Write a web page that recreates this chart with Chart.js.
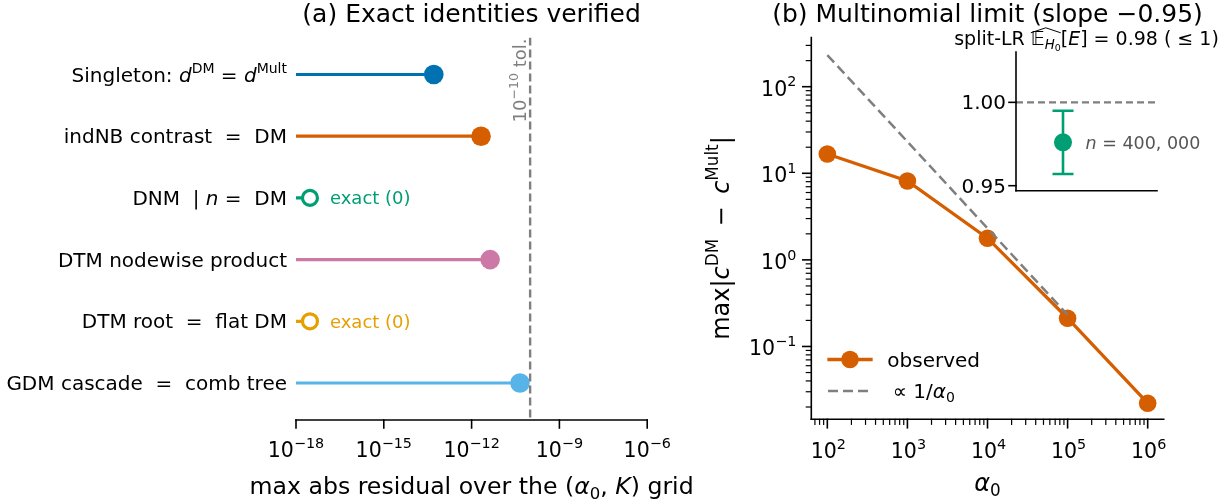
<!DOCTYPE html>
<html>
<head>
<meta charset="utf-8">
<script src="https://cdn.jsdelivr.net/npm/chart.js@4.4.1/dist/chart.umd.min.js"></script>
<style>
  html, body { margin: 0; padding: 0; background: #fff; }
  #wrap { position: relative; width: 1231px; height: 503px; }
  #wrap canvas { position: absolute; left: 0; top: 0; }
</style>
</head>
<body>
<div id="wrap">
  <canvas id="left" width="1231" height="503"></canvas>
  <canvas id="right" width="1231" height="503"></canvas>
  <canvas id="inset" width="1231" height="503"></canvas>
</div>
<script>
// panel (a): residuals of the exact identities
const identityLabels = [
  'Singleton: {i:d}{sup:DM} = {i:d}{sup:Mult}',
  'indNB contrast  =  DM',
  'DNM  | {i:n} =  DM',
  'DTM nodewise product',
  'DTM root  =  flat DM',
  'GDM cascade  =  comb tree'
];
const residuals = [5.1e-14, 2.1e-12, 0, 4.3e-12, 0, 4.5e-11];
const identityColors = ['#0072B2', '#D55E00', '#009E73', '#CC79A7', '#E69F00', '#56B4E9'];
const exactFloor = 3e-18; // where the exactly-zero rows sit
const tolerance = 1e-10;
const residualTickExps = [-18, -15, -12, -9, -6];

// panel (b): multinomial limit
const alpha0 = [1e2, 1e3, 1e4, 1e5, 1e6];
const observedDiff = [16.7, 8.15, 1.78, 0.212, 0.0221];
const refAlpha0 = [1e2, 1e3, 1e4, 1e5];
const refDiff = [232, 23.2, 2.32, 0.232];
const alphaTickExps = [2, 3, 4, 5, 6];
const diffTickExps = [-1, 0, 1, 2];

// inset: split-LR e-value check
const splitLRMean = 0.976;
const splitLRLow = 0.957;
const splitLRHigh = 0.995;
const splitLRTicks = [0.95, 1.00];
const splitLRn = '400, 000';

const FONT = '"DejaVu Sans", "Noto Sans", sans-serif';
const GRAY = '#7f7f7f';

// tiny markup: {i:x} italic, {sup:x} superscript, {sub:x} subscript
function parseRich(str) {
  const segs = [];
  const re = /\{(i|sup|sub):([^}]*)\}/g;
  let last = 0, m;
  while ((m = re.exec(str))) {
    if (m.index > last) segs.push({ t: str.slice(last, m.index) });
    if (m[1] === 'i') segs.push({ t: m[2], it: true });
    if (m[1] === 'sup') segs.push({ t: m[2], s: 0.7, dy: 0.45 });
    if (m[1] === 'sub') segs.push({ t: m[2], s: 0.7, dy: -0.2 });
    last = re.lastIndex;
  }
  if (last < str.length) segs.push({ t: str.slice(last) });
  return segs;
}

function segFont(seg, size) {
  return (seg.it ? 'italic ' : '') + (size * (seg.s || 1)).toFixed(2) + 'px ' + FONT;
}

function drawRich(ctx, segs, x, y, size, align, color) {
  if (typeof segs === 'string') segs = parseRich(segs);
  let total = 0;
  const widths = segs.map(seg => {
    ctx.font = segFont(seg, size);
    const w = ctx.measureText(seg.t).width;
    total += w;
    return w;
  });
  let cx = align === 'right' ? x - total : align === 'center' ? x - total / 2 : x;
  ctx.save();
  ctx.fillStyle = color;
  ctx.strokeStyle = color;
  ctx.textAlign = 'left';
  ctx.textBaseline = 'alphabetic';
  segs.forEach((seg, k) => {
    ctx.font = segFont(seg, size);
    ctx.fillText(seg.t, cx, y - (seg.dy || 0) * size);
    if (seg.hatSpan) {
      let w = 0;
      for (let j = k; j < k + seg.hatSpan; j++) w += widths[j];
      const top = y - 0.8 * size;
      ctx.lineWidth = 1;
      ctx.beginPath();
      ctx.moveTo(cx, top + 3);
      ctx.lineTo(cx + w / 2, top - 2);
      ctx.lineTo(cx + w, top + 3);
      ctx.stroke();
    }
    cx += widths[k];
  });
  ctx.restore();
  return total;
}

function pow10Label(e) {
  return '10{sup:' + (e < 0 ? '\u2212' + (-e) : e) + '}';
}

function logMinors(min, max) {
  const out = [];
  for (let e = Math.floor(Math.log10(min)); e <= Math.ceil(Math.log10(max)); e++) {
    for (let k = 2; k <= 9; k++) {
      const v = k * Math.pow(10, e);
      if (v >= min && v <= max) out.push(v);
    }
  }
  return out;
}

function line(ctx, x1, y1, x2, y2, w, color) {
  ctx.save();
  ctx.strokeStyle = color || '#000';
  ctx.lineWidth = w;
  ctx.lineCap = 'square';
  ctx.beginPath();
  ctx.moveTo(x1, y1);
  ctx.lineTo(x2, y2);
  ctx.stroke();
  ctx.restore();
}

const baseOptions = {
  responsive: false,
  devicePixelRatio: 1,
  animation: false,
  events: [],
  plugins: { legend: { display: false }, tooltip: { enabled: false } }
};

// ---------- panel (a) ----------
const leftDatasets = [{
  data: [{ x: tolerance, y: -0.6 }, { x: tolerance, y: 5.6 }],
  showLine: true, borderColor: GRAY, borderWidth: 2.4, borderDash: [8, 4], pointRadius: 0
}];
identityLabels.forEach((lab, i) => {
  const exact = residuals[i] === 0;
  leftDatasets.push({
    data: [{ x: 1e-18, y: i }, { x: exact ? exactFloor : residuals[i], y: i }],
    showLine: true,
    borderColor: identityColors[i],
    borderWidth: 3.2,
    pointStyle: 'circle',
    pointRadius: [0, exact ? 7.5 : 9.8],
    pointBackgroundColor: exact ? '#fff' : identityColors[i],
    pointBorderColor: identityColors[i],
    pointBorderWidth: [0, exact ? 3.2 : 0]
  });
});

new Chart(document.getElementById('left'), {
  type: 'scatter',
  data: { datasets: leftDatasets },
  options: {
    ...baseOptions,
    layout: { padding: { left: 296, right: 1231 - 647.2, top: 37.5, bottom: 503 - 420 } },
    scales: {
      x: { type: 'logarithmic', min: 1e-18, max: 1e-6, display: false },
      y: { type: 'linear', min: -0.6, max: 5.6, reverse: true, display: false }
    }
  },
  plugins: [{
    id: 'decorLeft',
    afterDraw(chart) {
      const ctx = chart.ctx, a = chart.chartArea;
      const xs = chart.scales.x, ys = chart.scales.y;
      line(ctx, a.left, a.bottom, a.right, a.bottom, 1.6);
      residualTickExps.forEach(e => {
        const px = xs.getPixelForValue(Math.pow(10, e));
        line(ctx, px, a.bottom, px, a.bottom + 8, 1.6);
        drawRich(ctx, pow10Label(e), px, a.bottom + 37, 20.5, 'center', '#000');
      });
      drawRich(ctx, 'max abs residual over the ({i:\u03b1}{sub:0}, {i:K}) grid',
        (a.left + a.right) / 2, 494, 23.6, 'center', '#000');
      identityLabels.forEach((lab, i) => {
        const py = ys.getPixelForValue(i);
        drawRich(ctx, lab, a.left - 9, py + 7, 20, 'right', '#000');
        if (residuals[i] === 0) {
          drawRich(ctx, 'exact (0)', xs.getPixelForValue(exactFloor) + 20, py + 6.5, 18, 'left', identityColors[i]);
        }
      });
      // tolerance label, rotated along the dashed line
      ctx.save();
      ctx.translate(xs.getPixelForValue(tolerance) - 4, a.top + 1);
      ctx.rotate(-Math.PI / 2);
      drawRich(ctx, '10{sup:\u221210} tol.', 0, 0, 18, 'right', GRAY);
      ctx.restore();
      drawRich(ctx, '(a) Exact identities verified', (a.left + a.right) / 2, 22, 25, 'center', '#000');
    }
  }]
});

// ---------- panel (b) ----------
const xMinB = Math.pow(10, 1.8), xMaxB = Math.pow(10, 6.2);
const yMinB = 0.01442, yMaxB = 369;

new Chart(document.getElementById('right'), {
  type: 'scatter',
  data: {
    datasets: [{
      label: '\u221d 1/\u03b10',
      data: refAlpha0.map((a, k) => ({ x: a, y: refDiff[k] })),
      showLine: true, borderColor: GRAY, borderWidth: 2.5, borderDash: [10, 5], pointRadius: 0
    }, {
      label: 'observed',
      data: alpha0.map((a, k) => ({ x: a, y: observedDiff[k] })),
      showLine: true, borderColor: '#D55E00', borderWidth: 3.3,
      pointRadius: 8.8, pointBackgroundColor: '#D55E00', pointBorderWidth: 0
    }]
  },
  options: {
    ...baseOptions,
    layout: { padding: { left: 811.3, right: 1231 - 1163.7, top: 37.6, bottom: 503 - 419.3 } },
    scales: {
      x: { type: 'logarithmic', min: xMinB, max: xMaxB, display: false },
      y: { type: 'logarithmic', min: yMinB, max: yMaxB, display: false }
    }
  },
  plugins: [{
    id: 'decorRight',
    afterDraw(chart) {
      const ctx = chart.ctx, a = chart.chartArea;
      const xs = chart.scales.x, ys = chart.scales.y;
      line(ctx, a.left, a.top, a.left, a.bottom, 1.6);
      line(ctx, a.left, a.bottom, a.right, a.bottom, 1.6);
      logMinors(xMinB, xMaxB).forEach(v => {
        const px = xs.getPixelForValue(v);
        line(ctx, px, a.bottom, px, a.bottom + 5, 1.2);
      });
      logMinors(yMinB, yMaxB).forEach(v => {
        const py = ys.getPixelForValue(v);
        line(ctx, a.left, py, a.left - 5, py, 1.2);
      });
      alphaTickExps.forEach(e => {
        const px = xs.getPixelForValue(Math.pow(10, e));
        line(ctx, px, a.bottom, px, a.bottom + 8.5, 1.6);
        drawRich(ctx, pow10Label(e), px + 1, a.bottom + 38.5, 20.5, 'center', '#000');
      });
      diffTickExps.forEach(e => {
        const py = ys.getPixelForValue(Math.pow(10, e));
        line(ctx, a.left, py, a.left - 8.5, py, 1.6);
        drawRich(ctx, pow10Label(e), a.left - 15, py + 9, 20.5, 'right', '#000');
      });
      drawRich(ctx, '{i:\u03b1}{sub:0}', (a.left + a.right) / 2, 491, 24, 'center', '#000');
      ctx.save();
      ctx.translate(729, 238);
      ctx.rotate(-Math.PI / 2);
      drawRich(ctx, 'max|{i:c}{sup:DM} \u2009\u2212\u2009 {i:c}{sup:Mult}|', 0, 0, 24, 'center', '#000');
      ctx.restore();
      // legend, lower left inside the axes
      const ds = chart.data.datasets;
      line(ctx, 829, 359.5, 871, 359.5, 3.3, ds[1].borderColor);
      ctx.save();
      ctx.fillStyle = ds[1].borderColor;
      ctx.beginPath();
      ctx.arc(850, 359.5, 8.8, 0, Math.PI * 2);
      ctx.fill();
      ctx.setLineDash(ds[0].borderDash);
      ctx.strokeStyle = ds[0].borderColor;
      ctx.lineWidth = ds[0].borderWidth;
      ctx.beginPath();
      ctx.moveTo(828, 391);
      ctx.lineTo(870, 391);
      ctx.stroke();
      ctx.restore();
      drawRich(ctx, ds[1].label, 887.3, 367, 20, 'left', '#000');
      drawRich(ctx, '\u221d 1/{i:\u03b1}{sub:0}', 892.7, 398, 20, 'left', '#000');
      drawRich(ctx, '(b) Multinomial limit (slope \u22120.95)', (a.left + a.right) / 2, 22, 25, 'center', '#000');
    }
  }]
});

// ---------- inset ----------
new Chart(document.getElementById('inset'), {
  type: 'scatter',
  data: {
    datasets: [{
      data: [{ x: -0.5, y: 1 }, { x: 1, y: 1 }],
      showLine: true, borderColor: GRAY, borderWidth: 2.2, borderDash: [7, 4], pointRadius: 0
    }, {
      data: [{ x: 0, y: splitLRLow }, { x: 0, y: splitLRHigh }],
      showLine: true, borderColor: '#009E73', borderWidth: 2.6,
      pointStyle: 'line', pointRadius: 10.5, pointBorderColor: '#009E73', pointBorderWidth: 2.6
    }, {
      data: [{ x: 0, y: splitLRMean }],
      pointRadius: 9, pointBackgroundColor: '#009E73', pointBorderWidth: 0
    }]
  },
  options: {
    ...baseOptions,
    layout: { padding: { left: 1016, right: 1231 - 1157, top: 52, bottom: 503 - 190.7 } },
    scales: {
      x: { type: 'linear', min: -0.5, max: 1, display: false },
      y: { type: 'linear', min: 0.947, max: 1.0302, display: false }
    }
  },
  plugins: [{
    id: 'decorInset',
    afterDraw(chart) {
      const ctx = chart.ctx, a = chart.chartArea;
      const xs = chart.scales.x, ys = chart.scales.y;
      line(ctx, a.left, a.top, a.left, a.bottom, 1.6);
      line(ctx, a.left, a.bottom, a.right, a.bottom, 1.6);
      splitLRTicks.forEach(v => {
        const py = ys.getPixelForValue(v);
        line(ctx, a.left, py, a.left - 7, py, 1.6);
        drawRich(ctx, v.toFixed(2), a.left - 10, py + 7, 20, 'right', '#000');
      });
      drawRich(ctx, '{i:n} = ' + splitLRn, xs.getPixelForValue(0) + 22.5, ys.getPixelForValue(splitLRMean) + 6.5, 17.5, 'left', '#555');
      const title = [
        { t: 'split-LR ' },
        { t: '\ud835\udd3c', hatSpan: 3 },
        { t: 'H', it: true, s: 0.7, dy: -0.22 },
        { t: '0', s: 0.5, dy: -0.32 },
        { t: '[' },
        { t: 'E', it: true },
        { t: '] = 0.98 ( \u2264 1)' }
      ];
      drawRich(ctx, title, (a.left + a.right) / 2, 45, 19, 'center', '#000');
    }
  }]
});
</script>
</body>
</html>
